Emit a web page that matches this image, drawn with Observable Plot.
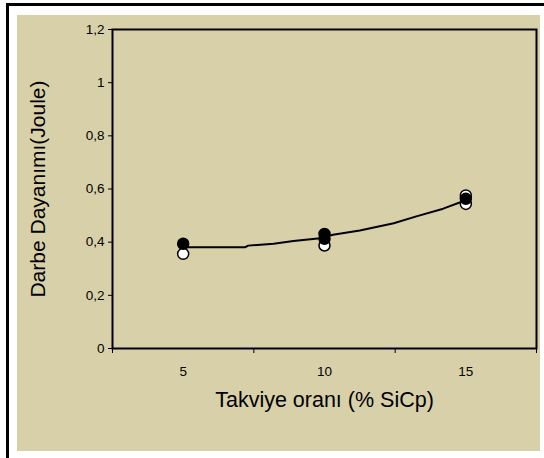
<!DOCTYPE html>
<html>
<head>
<meta charset="utf-8">
<script src="https://cdn.jsdelivr.net/npm/d3@7"></script>
<script src="https://cdn.jsdelivr.net/npm/@observablehq/plot@0.6"></script>
<style>
  html, body { margin: 0; padding: 0; background: #ffffff; width: 544px; height: 458px; overflow: hidden; }
  #frame { position: absolute; left: 6px; top: 3px; width: 600px; height: 500px; border-left: 3px solid #000; border-top: 3px solid #000; }
  #chart { position: absolute; left: 17px; top: 15px; }
  #chart svg { display: block; background: #d8d0a8; }
</style>
</head>
<body>
<div id="frame"></div>
<div id="chart"></div>
<script>
// Data
const xCategories = [5, 10, 15];
const xBoundaries = [2.5, 7.5, 12.5, 17.5];
const yTicks = [0, 0.2, 0.4, 0.6, 0.8, 1, 1.2];
const xTitle = "Takviye oranı (% SiCp)";
const yTitle = "Darbe Dayanımı(Joule)";

// Filled (black) markers
const filledX = [5, 10, 10, 15];
const filledY = [0.394, 0.431, 0.413, 0.563];

// Open (white) markers
const openX = [5, 10, 15, 15];
const openY = [0.356, 0.3875, 0.576, 0.544];

// Trend line
const trendX = [5, 7.2, 7.3, 8.2, 8.9, 9.85, 10.3, 11.25, 12.45, 13.25, 14.2, 14.9];
const trendY = [0.381, 0.381, 0.387, 0.394, 0.404, 0.415, 0.428, 0.444, 0.471, 0.497, 0.526, 0.554];

const filled = filledX.map((x, i) => ({x, y: filledY[i]}));
const open = openX.map((x, i) => ({x, y: openY[i]}));
const trend = trendX.map((x, i) => ({x, y: trendY[i]}));

const fmt = d => String(d).replace(".", ",");

const chart = Plot.plot({
  width: 523,
  height: 436,
  marginLeft: 95,
  marginTop: 14,
  marginRight: 4,
  marginBottom: 103,
  style: { fontFamily: "'Liberation Sans', Arial, sans-serif", background: "#d8d0a8", color: "#000" },
  x: { domain: [2.5, 17.5] },
  y: { domain: [0, 1.2] },
  marks: [
    Plot.frame({ stroke: "#000", strokeWidth: 2 }),
    Plot.axisY({ ticks: yTicks, tickFormat: fmt, tickSize: 4, tickPadding: 4, fontSize: 13.5, label: null }),
    Plot.axisX({ ticks: xBoundaries, tickFormat: () => "", tickSize: 5, label: null }),
    Plot.axisX({ ticks: xCategories, tickSize: 0, tickPadding: 18, fontSize: 13.5, label: null }),
    Plot.text([xTitle], { text: d => d, frameAnchor: "bottom", textAnchor: "middle", lineAnchor: "middle", dy: 52, fontSize: 21.5, fill: "#000" }),
    Plot.text([yTitle], { text: d => d, frameAnchor: "left", textAnchor: "middle", lineAnchor: "middle", rotate: -90, dx: -74, fontSize: 21, fill: "#000" }),
    Plot.line(trend, { x: "x", y: "y", stroke: "#000", strokeWidth: 2 }),
    Plot.dot(open, { x: "x", y: "y", r: 5.5, fill: "#fff", stroke: "#000", strokeWidth: 1.5 }),
    Plot.dot(filled, { x: "x", y: "y", r: 5.5, fill: "#000", stroke: "#000", strokeWidth: 1.5 })
  ]
});
document.getElementById("chart").appendChild(chart);
</script>
</body>
</html>
